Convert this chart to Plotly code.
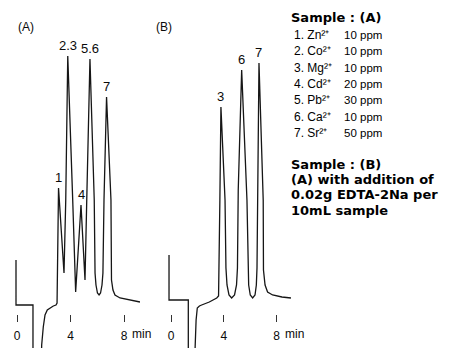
import plotly.graph_objects as go

W, H = 450, 348

# ---------------- data ----------------
# Chromatogram (A): retention time (min) and detector signal (arbitrary units)
time_A = [-0.09, -0.09, 1.18, 1.18, 1.80, 1.83, 1.95, 2.08, 2.25, 2.45, 2.70, 2.90, 2.98,
          3.09, 3.50, 3.63, 3.78, 4.15, 4.37, 4.77, 5.07, 5.20, 5.44, 5.76, 5.82,
          5.89, 6.00, 6.12, 6.23, 6.34, 6.41, 6.49, 6.68, 7.01, 7.05, 7.16, 7.31,
          7.69, 8.50, 9.18]
signal_A = [45, 0, 0, -60, -60, -40, -22, -10, -5, -3, -1, 0, 2,
            117, 32, 105, 249, 105, 13, 100, 25, 105, 246, 105, 32,
            20, 12, 10, 12, 20, 32, 105, 208, 105, 25, 15, 10,
            7, 5, 3]

# Chromatogram (B)
time_B = [-0.15, -0.15, 1.31, 1.31, 1.78, 1.82, 1.90, 1.99, 2.15, 2.32, 2.90, 3.46, 3.60,
          3.70, 3.78, 4.09, 4.16, 4.24, 4.39, 4.59, 4.81, 4.96, 5.03, 5.09, 5.35,
          5.75, 5.81, 5.88, 6.00, 6.18, 6.36, 6.46, 6.51, 6.55, 6.66, 6.98, 7.00,
          7.12, 7.31, 7.69, 8.40, 9.08]
signal_B = [50, 5, 5, -60, -60, -38, -15, -3, -1, 0, 3, 7, 9,
            105, 198, 105, 37, 20, 10, 7, 10, 20, 37, 115, 235,
            105, 37, 20, 10, 7, 10, 20, 37, 105, 242, 105, 35,
            20, 13, 10, 8, 7]

# Peak labels
peak_labels_A = ["1", "2.3", "4", "5.6", "7"]
peak_times_A = [3.09, 3.78, 4.77, 5.44, 6.68]
peak_heights_A = [117, 249, 100, 246, 208]

peak_labels_B = ["3", "6", "7"]
peak_times_B = [3.78, 5.35, 6.66]
peak_heights_B = [198, 235, 242]

tick_values = [0, 4, 8]
tick_labels = ["0", "4", "8"]

sample_A_title = "Sample : (A)"
sample_A_ions = ["1. Zn²⁺", "2. Co²⁺", "3. Mg²⁺", "4. Cd²⁺", "5. Pb²⁺", "6. Ca²⁺", "7. Sr²⁺"]
sample_A_conc = ["10 ppm", "10 ppm", "10 ppm", "20 ppm", "30 ppm", "10 ppm", "50 ppm"]
sample_B_lines = ["Sample : (B)", "(A) with addition of", "0.02g EDTA-2Na per",
                  "10mL sample"]

# ---------------- helpers ----------------
def px(x):
    return x / W

def py(y):
    return 1 - y / H

LINE = dict(color="#161616", width=1.3)
SANS = "Liberation Sans, Arial, sans-serif"
BOLD = "DejaVu Sans, sans-serif"
TXT = "#0a0a0a"

fig = go.Figure()
fig.add_trace(go.Scatter(x=time_A, y=signal_A, mode="lines", line=LINE,
                         xaxis="x", yaxis="y", hoverinfo="skip"))
fig.add_trace(go.Scatter(x=time_B, y=signal_B, mode="lines", line=LINE,
                         xaxis="x2", yaxis="y2", hoverinfo="skip"))

yr = [-43, 305]
xa = dict(showline=False, showgrid=False, zeroline=False, ticks="outside",
          ticklen=7, tickwidth=1, tickcolor="#333", tickvals=tick_values,
          ticktext=tick_labels, anchor="free", position=py(314),
          ticklabelstandoff=4,
          tickfont=dict(family=SANS, size=12, color=TXT), fixedrange=True)

fig.update_layout(
    width=W, height=H, margin=dict(l=0, r=0, t=0, b=0),
    paper_bgcolor="white", plot_bgcolor="white", showlegend=False,
    xaxis=dict(xa, domain=[0, px(150)], range=[-17.2 / 13.375, (150 - 17.2) / 13.375]),
    xaxis2=dict(xa, domain=[px(150), px(300)], range=[(150 - 171) / 13.21, (300 - 171) / 13.21]),
    yaxis=dict(visible=False, range=yr, domain=[0, 1], anchor="x", fixedrange=True),
    yaxis2=dict(visible=False, range=yr, domain=[0, 1], anchor="x2", fixedrange=True),
)

ann = []
# peak labels
for lab, t, h in zip(peak_labels_A, peak_times_A, peak_heights_A):
    ann.append(dict(x=t, y=h, xref="x", yref="y", text=lab, showarrow=False,
                    yanchor="bottom", yshift=1, font=dict(family=SANS, size=13, color=TXT)))
for lab, t, h in zip(peak_labels_B, peak_times_B, peak_heights_B):
    ann.append(dict(x=t, y=h, xref="x2", yref="y2", text=lab, showarrow=False,
                    yanchor="bottom", yshift=1, font=dict(family=SANS, size=13, color=TXT)))
# "min" after the 8 tick label
for xr in ["x", "x2"]:
    ann.append(dict(x=8, y=py(334), xref=xr, yref="paper", text="min", showarrow=False,
                    xanchor="left", yanchor="middle", xshift=6,
                    font=dict(family=SANS, size=12, color=TXT)))
# panel labels
ann.append(dict(x=px(16), y=py(18), xref="paper", yref="paper", text="(A)", showarrow=False,
                font=dict(family=SANS, size=12, color=TXT)))
ann.append(dict(x=px(164), y=py(18), xref="paper", yref="paper", text="(B)", showarrow=False,
                font=dict(family=SANS, size=12, color=TXT)))
# sample description
ann.append(dict(x=px(289), y=py(17.5), xref="paper", yref="paper", text=sample_A_title,
                showarrow=False, xanchor="left", yanchor="middle",
                font=dict(family=BOLD, size=13, color="#000", weight="bold")))
for i, (ion, conc) in enumerate(zip(sample_A_ions, sample_A_conc)):
    yy = 35 + i * 16.3
    ann.append(dict(x=px(292), y=py(yy), xref="paper", yref="paper", text=ion,
                    showarrow=False, xanchor="left", yanchor="middle",
                    font=dict(family=SANS, size=12, color="#000")))
    ann.append(dict(x=px(341.5), y=py(yy), xref="paper", yref="paper", text=conc,
                    showarrow=False, xanchor="left", yanchor="middle",
                    font=dict(family=SANS, size=11.5, color="#000")))
for i, line in enumerate(sample_B_lines):
    yy = 164 + i * 15.4
    ann.append(dict(x=px(289), y=py(yy), xref="paper", yref="paper", text=line,
                    showarrow=False, xanchor="left", yanchor="middle",
                    font=dict(family=BOLD, size=13, color="#000", weight="bold")))

fig.update_layout(annotations=ann)

fig.write_html("out.html", config={"displayModeBar": False})
